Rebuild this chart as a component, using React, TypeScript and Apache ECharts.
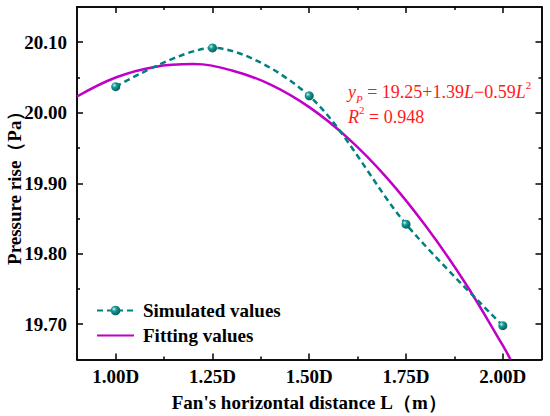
import React, { useEffect, useRef } from "react";
import * as echarts from "echarts";

const X_MAJOR = [1.0, 1.25, 1.5, 1.75, 2.0];
const X_MINOR = [1.125, 1.375, 1.625, 1.875];
const Y_MAJOR = [19.7, 19.8, 19.9, 20.0, 20.1];
const Y_MINOR = [19.75, 19.85, 19.95, 20.05];

const SIM_L = [1.0, 1.25, 1.5, 1.75, 2.0];
const SIM_P = [20.037, 20.092, 20.024, 19.842, 19.698];

const FIT_L = [0.9, 1.0, 1.1, 1.2, 1.3, 1.4, 1.5, 1.6, 1.7, 1.8, 1.9, 2.0, 2.02];
const FIT_P = [20.023, 20.05, 20.065, 20.069, 20.06, 20.04, 20.008, 19.964, 19.908, 19.84, 19.761, 19.67, 19.65];

const FONT = "'Times New Roman', 'Liberation Serif', serif";
const FS = 19;

export default function App() {
  const ref = useRef<HTMLDivElement>(null);
  useEffect(() => {
    if (!ref.current) return;
    const chart = echarts.init(ref.current, null, { renderer: "svg" });
    const axisLine = { show: true, lineStyle: { color: "#000", width: 1.5 } };
    const xCommon = { type: "value", min: 0.9, max: 2.1, axisLine, splitLine: { show: false } };
    const yCommon = { type: "value", min: 19.65, max: 20.15, axisLine, splitLine: { show: false } };
    const tick = (vals: number[], len: number) => ({
      show: true,
      inside: true,
      length: len,
      customValues: vals,
      lineStyle: { color: "#000", width: 1.5 },
    });
    const noLabel = { show: false };
    const bold = { color: "#000", fontFamily: FONT, fontWeight: "bold", fontSize: FS };
    chart.setOption({
      animation: false,
      grid: { left: 77, right: 8.5, top: 7, bottom: 56.5, containLabel: false, outerBoundsMode: "none" },
      xAxis: [
        {
          ...xCommon,
          position: "bottom",
          axisTick: tick(X_MAJOR, 6),
          axisLabel: {
            customValues: X_MAJOR,
            formatter: (v: number) => v.toFixed(2) + "D",
            ...bold,
            margin: 7,
          },
          name: "Fan's horizontal distance L（m）",
          nameLocation: "middle",
          nameGap: 33,
          nameMoveOverlap: false,
          nameTextStyle: bold,
        },
        { ...xCommon, position: "bottom", axisTick: tick(X_MINOR, 3), axisLabel: noLabel },
        { ...xCommon, position: "top", axisTick: tick(X_MAJOR, 6), axisLabel: noLabel },
        { ...xCommon, position: "top", axisTick: tick(X_MINOR, 3), axisLabel: noLabel },
      ],
      yAxis: [
        {
          ...yCommon,
          position: "left",
          axisTick: tick(Y_MAJOR, 6),
          axisLabel: {
            customValues: Y_MAJOR,
            formatter: (v: number) => v.toFixed(2),
            ...bold,
            margin: 10,
          },
          name: "Pressure rise（Pa）",
          nameLocation: "middle",
          nameGap: 53,
          nameRotate: 90,
          nameMoveOverlap: false,
          nameTextStyle: bold,
        },
        { ...yCommon, position: "left", axisTick: tick(Y_MINOR, 3), axisLabel: noLabel },
        { ...yCommon, position: "right", axisTick: tick(Y_MAJOR, 6), axisLabel: noLabel },
        { ...yCommon, position: "right", axisTick: tick(Y_MINOR, 3), axisLabel: noLabel },
      ],
      legend: {
        orient: "vertical",
        left: 91,
        top: 296,
        itemGap: 6,
        itemWidth: 37,
        itemHeight: 12,
        textStyle: { ...bold, padding: [0, 0, 0, 4] },
        data: [
          { name: "Simulated values" },
          { name: "Fitting values", itemStyle: { opacity: 0 } },
        ],
      },
      series: [
        {
          name: "Simulated values",
          type: "line",
          smooth: 0.3,
          data: SIM_L.map((l, i) => [l, SIM_P[i]]),
          symbol: "circle",
          symbolSize: 9,
          itemStyle: {
            color: {
              type: "radial",
              x: 0.35,
              y: 0.35,
              r: 0.7,
              colorStops: [
                { offset: 0, color: "#c8f5f0" },
                { offset: 0.35, color: "#1a9a96" },
                { offset: 1, color: "#005c5a" },
              ],
            },
            borderWidth: 0,
          },
          lineStyle: { color: "#008080", width: 2.5, type: [6, 4] },
          z: 3,
        },
        {
          name: "Fitting values",
          type: "line",
          smooth: 0.4,
          showSymbol: false,
          symbol: "none",
          data: FIT_L.map((l, i) => [l, FIT_P[i]]),
          itemStyle: { color: "#c000c8" },
          lineStyle: { color: "#c000c8", width: 2.5 },
          z: 2,
        },
      ],
      graphic: [
        {
          type: "text",
          left: 348,
          top: 79,
          style: {
            text: "{i|y}{sub|P}{n| = 19.25+1.39}{i|L}{n|−0.59}{i|L}{sup|2}\n{i|R}{sup|2}{n| = 0.948}",
            fill: "#ff1a1a",
            fontFamily: FONT,
            fontSize: 18,
            lineHeight: 25,
            rich: {
              i: { fontStyle: "italic", fontFamily: FONT, fontSize: 18, fill: "#ff1a1a", lineHeight: 25 },
              n: { fontFamily: FONT, fontSize: 18, fill: "#ff1a1a", lineHeight: 25 },
              sub: { fontStyle: "italic", fontFamily: FONT, fontSize: 11, fill: "#ff1a1a", verticalAlign: "bottom", lineHeight: 20 },
              sup: { fontFamily: FONT, fontSize: 11, fill: "#ff1a1a", verticalAlign: "top", lineHeight: 22 },
            },
          },
        },
      ],
    });
    return () => chart.dispose();
  }, []);
  return (
    <div
      ref={ref}
      style={{ position: "fixed", left: 0, top: 0, width: 550, height: 416, background: "#fff" }}
    />
  );
}
